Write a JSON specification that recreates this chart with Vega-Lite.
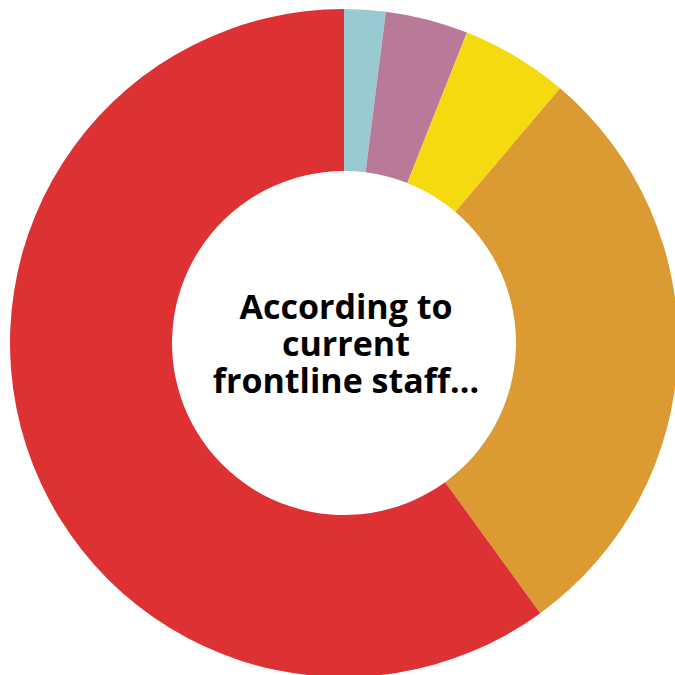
{
  "$schema": "https://vega.github.io/schema/vega-lite/v6.json",
  "autosize": "none",
  "width": 662,
  "height": 664,
  "padding": {"left": 13, "top": 11, "right": 0, "bottom": 0},
  "background": "white",
  "config": {"view": {"stroke": null}},
  "datasets": {
    "slices": [
      {"category": "A", "value": 2, "rank": 1},
      {"category": "B", "value": 4, "rank": 2},
      {"category": "C", "value": 5.2, "rank": 3},
      {"category": "D", "value": 28.8, "rank": 4},
      {"category": "E", "value": 60, "rank": 5}
    ],
    "center": [
      {"label": "According to\ncurrent\nfrontline staff..."}
    ]
  },
  "layer": [
    {
      "data": {"name": "slices"},
      "mark": {"type": "arc", "radius": 334, "innerRadius": 172, "stroke": null},
      "encoding": {
        "theta": {"field": "value", "type": "quantitative", "stack": true},
        "order": {"field": "rank", "type": "quantitative"},
        "color": {
          "field": "category",
          "type": "nominal",
          "scale": {"domain": ["A", "B", "C", "D", "E"], "range": ["#99CAD1", "#B97A99", "#F4DA0E", "#DC9A32", "#DE3133"]},
          "legend": null
        }
      }
    },
    {
      "data": {"name": "center"},
      "mark": {"type": "text", "font": "Open Sans", "fontWeight": "bold", "fontSize": 34, "lineHeight": 37, "lineBreak": "\n", "align": "center", "baseline": "alphabetic", "color": "#000000", "dx": 2, "dy": -24},
      "encoding": {"text": {"field": "label"}}
    }
  ]
}
